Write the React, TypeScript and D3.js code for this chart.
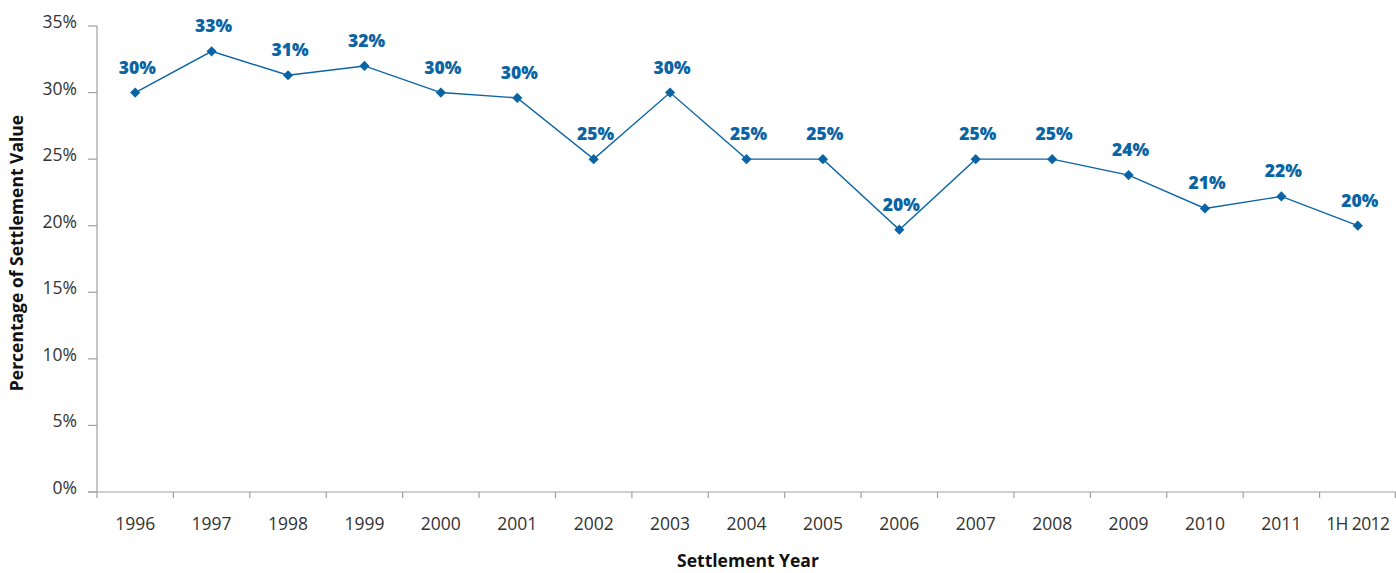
import React from "react";
import * as d3 from "d3";

const categories = ["1996","1997","1998","1999","2000","2001","2002","2003","2004","2005","2006","2007","2008","2009","2010","2011","1H 2012"];
const values = [30.0, 33.1, 31.3, 32.0, 30.0, 29.6, 25.0, 30.0, 25.0, 25.0, 19.7, 25.0, 25.0, 23.8, 21.3, 22.2, 20.0];
const valueLabels = ["30%","33%","31%","32%","30%","30%","25%","30%","25%","25%","20%","25%","25%","24%","21%","22%","20%"];
const yTicks = [0, 5, 10, 15, 20, 25, 30, 35];

const W = 1396, H = 573;
const left = 97, right = 1396, top = 26, bottom = 492;
const BLUE = "#0a64a4";
const AXIS = "#a0a0a0";
const FONT = "'Open Sans', sans-serif";

export default function App() {
  const x = d3.scaleBand<string>().domain(categories).range([left, right]).paddingInner(0).paddingOuter(0);
  const y = d3.scaleLinear().domain([0, 35]).range([bottom, top]);
  const cx = (c: string) => (x(c) as number) + x.bandwidth() / 2;
  const line = d3.line<number>().x((_, i) => cx(categories[i])).y((v) => y(v));
  const marker = d3.symbol().type(d3.symbolSquare).size(52)();

  return (
    <svg width={W} height={H} style={{ position: "absolute", left: 0, top: 0, background: "#fff" }}>
      {/* y axis */}
      <line x1={left} x2={left} y1={top} y2={bottom} stroke={AXIS} strokeWidth={1.2} />
      {yTicks.map((t) => (
        <g key={t}>
          <line x1={left - 9} x2={left} y1={y(t)} y2={y(t)} stroke={AXIS} strokeWidth={1.2} />
          <text x={77} y={y(t) + 2} textAnchor="end" fontFamily={FONT} fontSize={17.5} fill="#333">{t}%</text>
        </g>
      ))}
      {/* x axis */}
      <line x1={left - 9} x2={right} y1={bottom} y2={bottom} stroke={AXIS} strokeWidth={1.2} />
      {categories.map((c) => (
        <g key={c}>
          <line x1={x(c) as number} x2={x(c) as number} y1={bottom} y2={bottom + 6} stroke={AXIS} strokeWidth={1.2} />
          <text x={cx(c)} y={530} textAnchor="middle" fontFamily={FONT} fontSize={17.5} fill="#333" letterSpacing={c.startsWith("1H") ? -0.6 : 0}>{c}</text>
        </g>
      ))}
      <line x1={right - 0.6} x2={right - 0.6} y1={bottom} y2={bottom + 6} stroke={AXIS} strokeWidth={1.2} />
      {/* series */}
      <path d={line(values) || ""} fill="none" stroke={BLUE} strokeWidth={1.4} />
      {values.map((v, i) => (
        <g key={i}>
          <path d={marker || ""} transform={`translate(${cx(categories[i])},${y(v)}) rotate(45)`} fill={BLUE} />
          <text x={cx(categories[i]) + 2} y={y(v) - 19} textAnchor="middle" fontFamily={FONT} fontWeight={800} fontSize={17.5} fill={BLUE}>{valueLabels[i]}</text>
        </g>
      ))}
      {/* titles */}
      <text x={748} y={567} textAnchor="middle" fontFamily={FONT} fontWeight={700} fontSize={17.5} fill="#111">Settlement Year</text>
      <text transform={`translate(23,${253}) rotate(-90)`} textAnchor="middle" fontFamily={FONT} fontWeight={700} fontSize={17.5} fill="#111">Percentage of Settlement Value</text>
    </svg>
  );
}
